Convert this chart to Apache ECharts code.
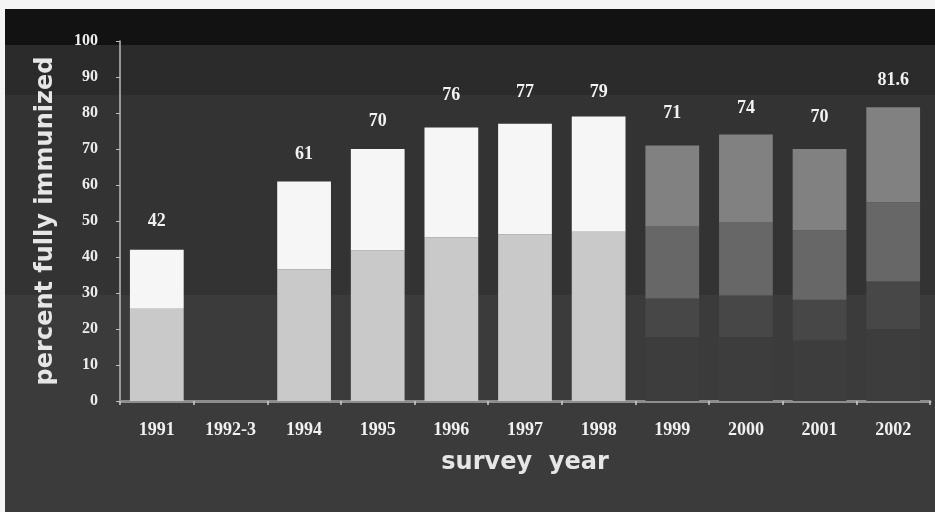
<!DOCTYPE html>
<html>
<head>
<meta charset="utf-8">
<script src="https://cdn.jsdelivr.net/npm/echarts@6/dist/echarts.min.js"></script>
<style>
html,body{margin:0;padding:0;background:#3b3b3b;}
#chart{width:935px;height:512px;}
</style>
</head>
<body>
<div id="chart"></div>
<script>
// ---- data ----
const categories = ['1991','1992-3','1994','1995','1996','1997','1998','1999','2000','2001','2002'];
const totals     = [42, null, 61, 70, 76, 77, 79, 71, 74, 70, 81.6];
// 1991-1998: light lower segment
const lowerPart  = [25.6, null, 36.6, 41.8, 45.5, 46.3, 47.0, null, null, null, null];
// 1999-2002: cumulative segment boundaries
const level1     = [null, null, null, null, null, null, null, 17.8, 17.8, 16.8, 20.0];
const level2     = [null, null, null, null, null, null, null, 28.5, 29.3, 28.1, 33.2];
const level3     = [null, null, null, null, null, null, null, 48.6, 49.6, 47.4, 55.2];
const yTicks     = [0, 10, 20, 30, 40, 50, 60, 70, 80, 90, 100];

// ---- styling ----
const labelNudge = [1, 0, 0, 1, 5, 4, -3, 5, -1, 5, 0];
const baseDist = 18;

function diff(a, b) { return a.map((v, i) => (v == null || b[i] == null) ? '-' : +(v - b[i]).toFixed(2)); }
function clean(a) { return a.map(v => v == null ? '-' : v); }

const upperPart = diff(totals.map((t, i) => lowerPart[i] == null ? null : t), lowerPart);
const seg1 = clean(level1);
const seg2 = diff(level2, level1);
const seg3 = diff(level3, level2);
const seg4 = diff(totals.map((t, i) => level3[i] == null ? null : t), level3);

function withLabels(arr) {
  return arr.map((v, i) => v === '-' ? '-' : { value: v, label: { distance: baseDist + labelNudge[i] } });
}

const labelStyle = {
  show: true, position: 'top',
  formatter: p => String(totals[p.dataIndex]),
  color: '#f2f2f2', fontFamily: 'Liberation Serif', fontWeight: 'bold', fontSize: 18
};

function bar(name, data, color, label) {
  return {
    name, type: 'bar', stack: 'all', data, barWidth: '73%',
    itemStyle: { color },
    label: label ? labelStyle : { show: false },
    silent: true, animation: false
  };
}

const chart = echarts.init(document.getElementById('chart'), null, { renderer: 'canvas' });
chart.setOption({
  backgroundColor: '#3b3b3b',
  animation: false,
  graphic: [
    { type: 'rect', z: -100, shape: { x: 0, y: 295, width: 935, height: 217 }, style: { fill: '#3b3b3b' } },
    { type: 'rect', z: -100, shape: { x: 0, y: 95, width: 935, height: 200 }, style: { fill: '#333333' } },
    { type: 'rect', z: -100, shape: { x: 0, y: 45, width: 935, height: 50 }, style: { fill: '#2b2b2b' } },
    { type: 'rect', z: -100, shape: { x: 0, y: 9, width: 935, height: 36 }, style: { fill: '#121212' } },
    { type: 'rect', z: -100, shape: { x: 0, y: 0, width: 935, height: 9 }, style: { fill: '#f4f4f4' } },
    { type: 'rect', z: -100, shape: { x: 0, y: 0, width: 5, height: 512 }, style: { fill: '#f4f4f4' } }
  ],
  grid: { left: 120, right: 5, top: 41, bottom: 111, containLabel: false },
  xAxis: {
    type: 'category', data: categories,
    name: 'survey  year', nameLocation: 'middle', nameGap: 50,
    nameTextStyle: { color: '#e6e6e6', fontFamily: 'DejaVu Sans', fontWeight: 'bold', fontSize: 24 },
    axisLine: { lineStyle: { color: '#8e8e8e', width: 3 } },
    axisTick: { show: true, length: 4, lineStyle: { color: '#d0d0d0', width: 1.5 } },
    axisLabel: { color: '#f0f0f0', fontFamily: 'Liberation Serif', fontWeight: 'bold', fontSize: 18, margin: 20 }
  },
  yAxis: {
    type: 'value', min: 0, max: 100, interval: 10,
    name: 'percent fully immunized', nameLocation: 'middle', nameGap: 62,
    nameTextStyle: { color: '#e6e6e6', fontFamily: 'DejaVu Sans', fontWeight: 'bold', fontSize: 24 },
    axisLine: { show: true, lineStyle: { color: '#bdbdbd', width: 1.5 } },
    axisTick: { show: true, length: 4, lineStyle: { color: '#bdbdbd' } },
    splitLine: { show: false },
    axisLabel: { color: '#ededed', fontFamily: 'Liberation Serif', fontWeight: 'bold', fontSize: 16, margin: 22,
      formatter: v => yTicks.includes(v) ? String(v) : '' }
  },
  series: [
    bar('lower', clean(lowerPart), '#c9c9c9', false),
    bar('upper', withLabels(upperPart), '#f6f6f6', true),
    bar('level1', seg1, '#3d3d3d', false),
    bar('level2', seg2, '#474747', false),
    bar('level3', seg3, '#676767', false),
    bar('level4', withLabels(seg4), '#818181', true)
  ]
});
</script>
</body>
</html>
